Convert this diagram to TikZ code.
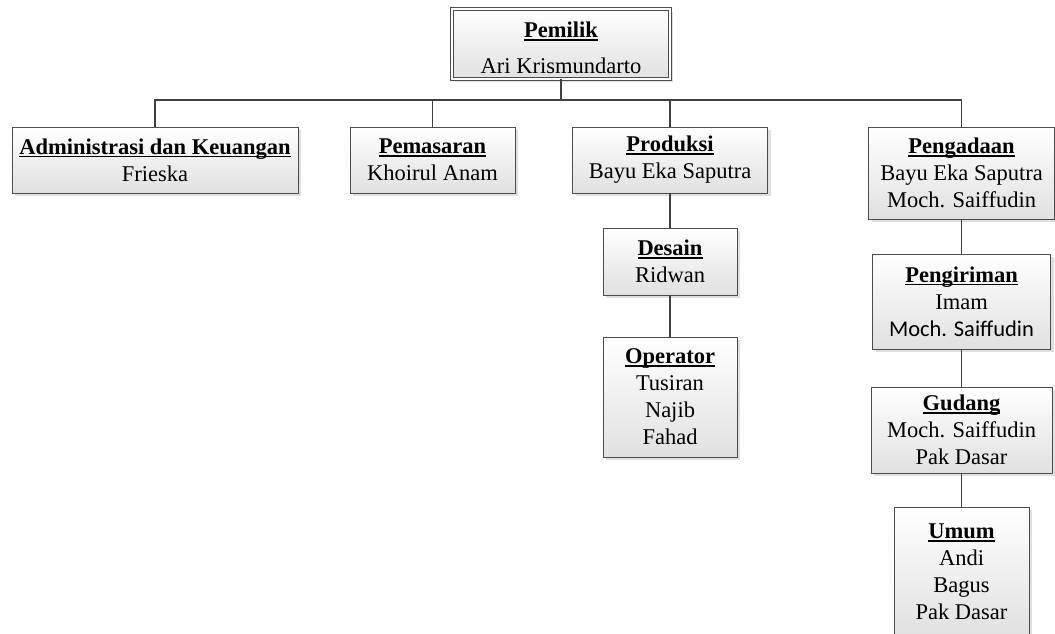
\documentclass[tikz,border=0pt]{standalone}
\usepackage{fontspec}
\setmainfont{Liberation Serif}
\newfontfamily\calibrifont{Carlito}
\usetikzlibrary{shadows}

% bold title with a fixed underline just below the baseline
\newsavebox{\jabbox}
\newcommand{\jabatan}[1]{\sbox{\jabbox}{\bfseries #1}\rlap{\rule[-3.2pt]{\wd\jabbox}{1.6pt}}\usebox{\jabbox}}

\begin{document}
\begin{tikzpicture}[
    x=1pt, y=-1pt,
    every node/.style={font=\fontsize{22.5}{27}\selectfont},
    kotak/.style={draw=black!70, line width=0.9pt, top color=white, bottom color=black!12,
      align=center, inner sep=2pt,
      drop shadow={shadow xshift=3pt, shadow yshift=-3pt, fill=black!25}},
    garis/.style={draw=black!75, line width=1.3pt}
  ]

% page frame (1055 x 633)
\useasboundingbox (0,0) rectangle (1055,633);

% Owner on top
\node[kotak, double=white, double distance=2pt, line width=0.7pt,
  minimum width=218pt, minimum height=70pt] (pemilik) at (561,44)
  {\rule{0pt}{24pt}\jabatan{Pemilik}\\[9pt]Ari Krismundarto};

% First level
\node[kotak, minimum width=286pt, minimum height=66pt] (admin) at (155,160)
  {\jabatan{Administrasi dan Keuangan}\\Frieska};
\node[kotak, minimum width=165pt, minimum height=66pt] (pemasaran) at (432.5,160)
  {\jabatan{Pemasaran}\\Khoirul Anam};
\node[kotak, minimum width=195pt, minimum height=66pt] (produksi) at (670,160)
  {\jabatan{Produksi}\\Bayu Eka Saputra};
\node[kotak, minimum width=186pt, minimum height=92pt] (pengadaan) at (961.5,173)
  {\jabatan{Pengadaan}\\Bayu Eka Saputra\\Moch. Saiffudin};

% Under Produksi
\node[kotak, minimum width=134pt, minimum height=67pt] (desain) at (670,261.5)
  {\jabatan{Desain}\\Ridwan};
\node[kotak, minimum width=134pt, minimum height=120pt] (operator) at (670,397)
  {\jabatan{Operator}\\Tusiran\\Najib\\Fahad};

% Under Pengadaan
\node[kotak, minimum width=178pt, minimum height=95pt] (pengiriman) at (961.5,301.5)
  {\jabatan{Pengiriman}\\Imam\\{\calibrifont Moch. Saiffudin}};
\node[kotak, minimum width=181pt, minimum height=86pt] (gudang) at (961.5,430)
  {\jabatan{Gudang}\\Moch. Saiffudin\\Pak Dasar};
\node[kotak, minimum width=135pt, minimum height=130pt] (umum) at (961.5,572)
  {\jabatan{Umum}\\Andi\\Bagus\\Pak Dasar};

% Connectors
\coordinate (bus) at (561,100);
\draw[garis] (pemilik.south) -- (bus);
\draw[garis] (admin.north) |- (bus) -| (pengadaan.north);
\draw[garis] (pemasaran.north) -- (pemasaran.north |- bus);
\draw[garis] (produksi.north) -- (produksi.north |- bus);
\draw[garis] (produksi.south) -- (desain.north);
\draw[garis] (desain.south) -- (operator.north);
\draw[garis] (pengadaan.south) -- (pengiriman.north);
\draw[garis] (pengiriman.south) -- (gudang.north);
\draw[garis] (gudang.south) -- (umum.north);

\end{tikzpicture}
\end{document}
